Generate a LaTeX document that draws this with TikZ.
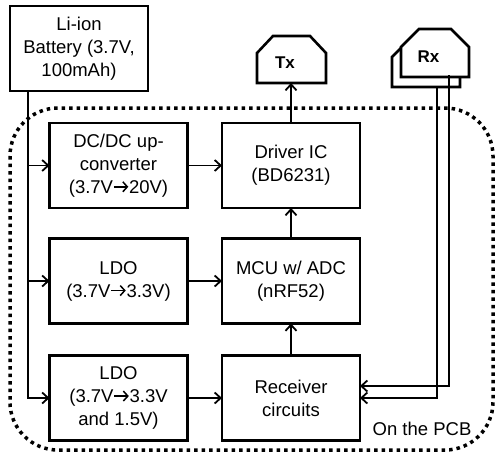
\documentclass[tikz,border=0pt]{standalone}
\usepackage{fontspec}
\setmainfont{Liberation Sans}
\usetikzlibrary{arrows.meta}
\newcommand\vto{\tikz[x=1pt,y=1pt,baseline=0pt]{\draw[line width=1.5pt,-{Straight Barb[length=4.5pt,width=10pt,line width=1.5pt]}] (0.5,6.5) -- (15,6.5);}}
\begin{document}
\begin{tikzpicture}[x=1pt,y=-1pt,
  box/.style={draw,line width=2.6pt,minimum width=138pt,minimum height=85pt,inner sep=0pt,outer sep=0pt,align=center,font=\fontsize{18.5}{23}\selectfont},
  conn/.style={line width=1.8pt},
  arr/.style={conn,-{Straight Barb[length=6pt,width=11pt]}},
  ant/.style={line width=2.6pt,fill=white,line join=miter},
  antlabel/.style={font=\bfseries\fontsize{17}{20}\selectfont,inner sep=0pt},
  pcbline/.style={line width=3.5pt,dash pattern=on 3.5pt off 4pt,rounded corners=48pt}
]
\useasboundingbox (0,0) rectangle (495,456);

% PCB outline
\draw[pcbline] (10,108) rectangle (493,450);
\node[font=\fontsize{18.5}{22}\selectfont,anchor=base,inner sep=0pt] (pcb) at (422,435) {On the PCB};

% boxes
\node[box] (bat) at (79,48.5) {Li-ion\\Battery (3.7V,\\100mAh)};
\node[box] (dc) at (118.5,165.5) {DC/DC up-\\converter\\(3.7V\vto20V)};
\node[box] (ldo) at (118.5,281) {LDO\\(3.7V\vto3.3V)};
\node[box] (ldo3) at (118.5,398) {LDO\\(3.7V\vto3.3V\\and 1.5V)};
\node[box] (drv) at (291,165.5) {Driver IC\\(BD6231)};
\node[box] (mcu) at (291,281) {MCU w/ ADC\\(nRF52)};
\node[box] (rcv) at (291,398) {Receiver\\circuits};

% Tx antenna
\draw[ant] (257,83) -- (257,53) -- (273,36) -- (310,36) -- (326,53) -- (326,83) -- cycle;
\node[antlabel] (tx) at (285,63) {Tx};
\coordinate (txb) at (291,83);

% Rx antenna (two layers)
\draw[ant] (392,87) -- (392,57) -- (410,39) -- (442,39) -- (460,57) -- (460,87) -- cycle;
\draw[ant] (401,77) -- (401,47) -- (419,29) -- (451,29) -- (469,47) -- (469,77) -- cycle;
\node[antlabel] (rx) at (428.5,57) {Rx};
\coordinate (rx1) at (449,75);
\coordinate (rx2) at (437,87);

% battery feed
\coordinate (bt) at (28,91);
\draw[arr] (bt) |- (ldo3.west);
\draw[arr] (bt |- dc.west) -- (dc.west);
\draw[arr] (bt |- ldo.west) -- (ldo.west);

% regulator outputs
\draw[arr] (dc.east) -- (drv.west);
\draw[arr] (ldo.east) -- (mcu.west);
\draw[arr] (ldo3.east) -- (rcv.west);

% signal chain
\draw[arr] (rcv.north) -- (mcu.south);
\draw[arr] (mcu.north) -- (drv.south);
\draw[arr] (drv.north) -- (txb);

% Rx feed
\draw[arr] (rx1) |- ([yshift=12pt]rcv.east);
\draw[arr] (rx2) |- (rcv.east);
\end{tikzpicture}
\end{document}
